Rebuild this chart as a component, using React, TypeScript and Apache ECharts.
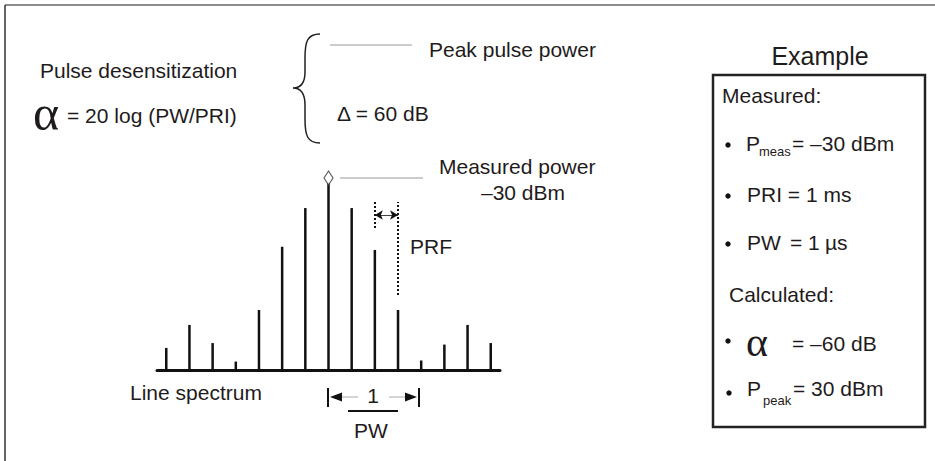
import React, { useEffect, useRef } from "react";
import * as echarts from "echarts";

// Harmonic index of each spectral line (0 = centre line)
const harmonics = [-7, -6, -5, -4, -3, -2, -1, 0, 1, 2, 3, 4, 5, 6, 7];
// Line amplitudes, relative to the measured (centre) line = 100
const amplitudes = [11.8, 24.1, 14.4, 4.5, 32.1, 65.9, 86.6, 100, 86.6, 64.2, 32.1, 5.1, 13.6, 24.1, 14.4];
// PRF annotation (harmonic positions and heights in amplitude units)
const prfShortLine = [2, 75.9, 89.8];
const prfLongLine = [3, 40.1, 89.8];
const prfArrowLevel = 82.9;

const SANS = '"Liberation Sans", Arial, sans-serif';
const SERIF = '"Liberation Serif", "Times New Roman", serif';
const TXT = "#1f1b1c";

const bracePath =
  "M320,34 C307,34 305,42 305,58 L305,72 C305,83 301,88 293,88 C301,88 305,94 305,105 L305,119 C305,135 307,143 320,143";
echarts.graphic.registerShape("brace", echarts.graphic.extendPath(bracePath, {}));

function txt(text: string, x: number, y: number, size = 21, align = "left", family = SANS) {
  return {
    type: "text",
    x,
    y,
    silent: true,
    style: {
      text,
      fill: TXT,
      fontSize: size,
      fontFamily: family,
      textAlign: align,
      textVerticalAlign: "middle",
      align,
      verticalAlign: "middle",
    },
  };
}
function ln(x1: number, y1: number, x2: number, y2: number, color = "#111", w = 1) {
  return {
    type: "line",
    silent: true,
    shape: { x1, y1, x2, y2 },
    style: { stroke: color, lineWidth: w },
  };
}
function bullet(x: number, y: number) {
  return { type: "circle", silent: true, shape: { cx: x, cy: y, r: 2.7 }, style: { fill: "#111" } };
}

export default function App() {
  const ref = useRef<HTMLDivElement>(null);
  useEffect(() => {
    if (!ref.current) return;
    const chart = echarts.init(ref.current, undefined, { renderer: "svg" });
    const option: any = {
      animation: false,
      backgroundColor: "#ffffff",
      grid: { left: 157, right: 435, top: 183, bottom: 91 },
      xAxis: {
        type: "value",
        min: -7.4,
        max: 7.4,
        axisLine: { show: true, onZero: false, lineStyle: { color: "#111", width: 3 } },
        axisTick: { show: false },
        axisLabel: { show: false },
        splitLine: { show: false },
      },
      yAxis: {
        type: "value",
        min: 0,
        max: 100,
        show: false,
        splitLine: { show: false },
      },
      series: [
        {
          type: "bar",
          barWidth: 2.5,
          data: harmonics.map((h, i) => [h, amplitudes[i]]),
          itemStyle: { color: "#111" },
          silent: true,
          markLine: {
            silent: true,
            symbol: "none",
            label: { show: false },
            lineStyle: { color: "#111", width: 2, type: [2, 2] },
            data: [
              [{ coord: [prfShortLine[0], prfShortLine[1]] }, { coord: [prfShortLine[0], prfShortLine[2]] }],
              [{ coord: [prfLongLine[0], prfLongLine[1]] }, { coord: [prfLongLine[0], prfLongLine[2]] }],
            ],
          },
        },
        {
          type: "scatter",
          data: [[harmonics[7], amplitudes[7]]],
          symbol: "diamond",
          symbolSize: [9, 14],
          symbolOffset: [0, -5],
          itemStyle: { color: "#ffffff", borderColor: "#333", borderWidth: 1.2 },
          z: 5,
          silent: true,
          markLine: {
            silent: true,
            symbol: ["arrow", "arrow"],
            symbolSize: [7, 8],
            label: { show: false },
            lineStyle: { color: "#111", width: 0.8, type: "solid" },
            data: [[{ coord: [prfShortLine[0], prfArrowLevel] }, { coord: [prfLongLine[0], prfArrowLevel] }]],
          },
        },
      ],
      graphic: [
        // frame
        ln(5, 5, 935, 5, "#666", 1.5),
        ln(5, 5, 5, 461, "#333", 1.5),
        // left formula
        txt("Pulse desensitization", 40, 70),
        txt("\u03b1", 33, 113, 50, "left", SERIF),
        txt("= 20 log (PW/PRI)", 67, 115),
        // brace and labels
        { type: "brace", x: 0, y: 0, silent: true, style: { fill: "none", stroke: "#222", lineWidth: 1.5 } },
        ln(330, 45, 412, 45, "#999", 1),
        txt("Peak pulse power", 429, 49),
        txt("\u0394 = 60 dB", 337, 113),
        // measured power
        ln(340, 178, 423, 178, "#999", 1),
        txt("Measured power", 439, 166),
        txt("\u201330 dBm", 523, 192, 21, "center"),
        txt("PRF", 410, 246),
        // line spectrum label
        txt("Line spectrum", 130, 392),
        // PW arrow
        ln(328, 388, 328, 407, "#111", 2),
        ln(419, 388, 419, 407, "#111", 2),
        { type: "polygon", silent: true, shape: { points: [[330, 397], [342, 392.5], [342, 401.5]] }, style: { fill: "#111" } },
        { type: "polygon", silent: true, shape: { points: [[417, 397], [405, 392.5], [405, 401.5]] }, style: { fill: "#111" } },
        ln(342, 397, 358, 397, "#aaa", 1),
        ln(389, 397, 405, 397, "#aaa", 1),
        txt("1", 373, 395, 21, "center"),
        ln(348, 411, 398, 411, "#111", 2),
        txt("PW", 371, 430, 21, "center"),
        // Example box
        txt("Example", 820, 56, 25, "center"),
        { type: "rect", silent: true, shape: { x: 713, y: 75, width: 212, height: 352 }, style: { fill: "none", stroke: "#222", lineWidth: 2.5 } },
        txt("Measured:", 722, 95),
        bullet(728, 145),
        txt("P", 746, 143),
        txt("meas", 759, 151, 13),
        txt("= \u201330 dBm", 792, 143),
        bullet(728, 196),
        txt("PRI = 1 ms", 747, 194),
        bullet(728, 244),
        txt("PW", 747, 242),
        txt("= 1", 790, 242),
        txt("\u00b5s", 825, 242),
        txt("Calculated:", 729, 294),
        bullet(728, 341),
        txt("\u03b1", 746, 342, 42, "left", SERIF),
        txt("= \u201360 dB", 792, 343),
        bullet(729, 393),
        txt("P", 747, 388),
        txt("peak", 763, 400, 13),
        txt("= 30 dBm", 793, 388),
      ],
    };
    chart.setOption(option);
    return () => chart.dispose();
  }, []);
  return (
    <div
      ref={ref}
      style={{ position: "fixed", left: 0, top: 0, width: 935, height: 461, background: "#fff" }}
    />
  );
}
